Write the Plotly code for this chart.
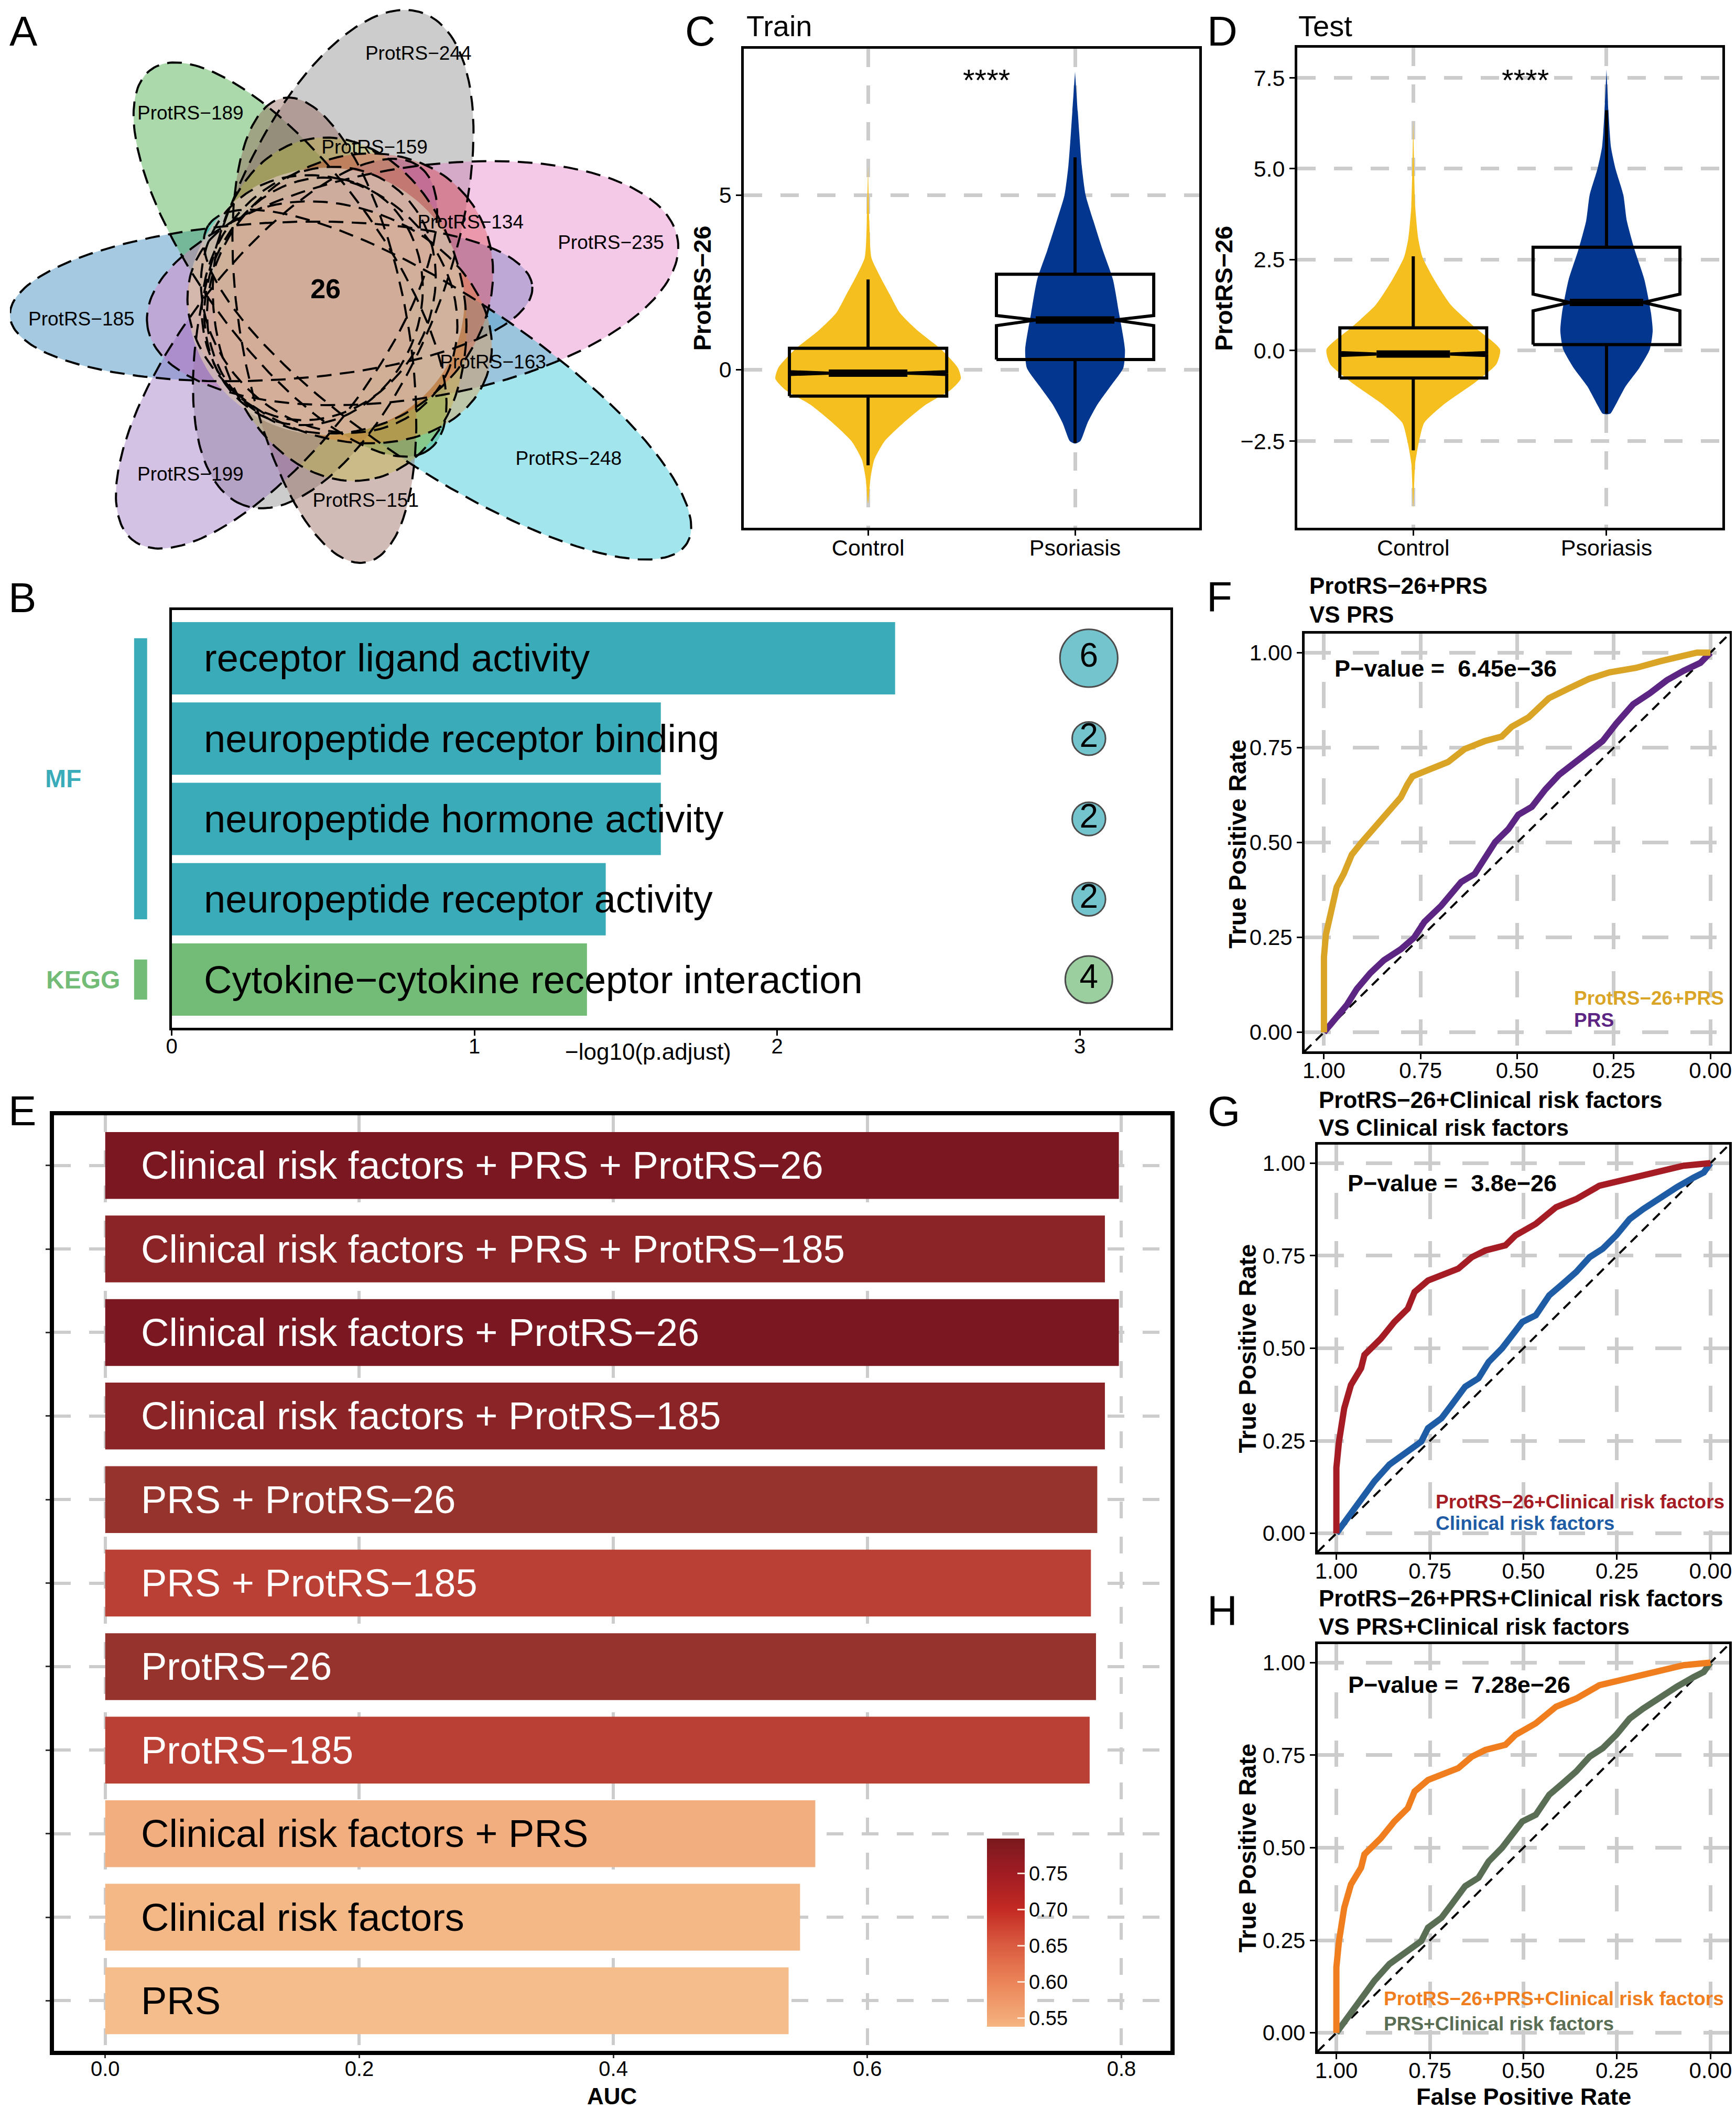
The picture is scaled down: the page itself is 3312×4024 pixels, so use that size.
import numpy as np
import plotly.graph_objects as go

W, H = 3312, 4024
OFF = 8  # page body margin compensation
FONT = "Liberation Sans, Arial, Helvetica, sans-serif"
MINUS = "\u2212"

# ---------------- data ----------------
# Panel A (Venn)
venn_petal_names = ["ProtRS" + MINUS + "185", "ProtRS" + MINUS + "189", "ProtRS" + MINUS + "244",
                    "ProtRS" + MINUS + "235", "ProtRS" + MINUS + "248", "ProtRS" + MINUS + "151",
                    "ProtRS" + MINUS + "199"]
venn_inner_names = ["ProtRS" + MINUS + "159", "ProtRS" + MINUS + "134", "ProtRS" + MINUS + "163"]
venn_core_count = 26

# Panel C (train) violin profiles: value level, half width (category units)
c_ctrl_levels = [-3.84, -3.1, -2.58, -2.05, -1.53, -1.0, -0.58, -0.26, 0.05, 0.58, 1.11, 1.63, 2.16, 2.69, 3.21, 4.26, 5.85]
c_ctrl_width = [0.0, 0.012, 0.03, 0.08, 0.17, 0.28, 0.40, 0.448, 0.434, 0.353, 0.241, 0.153, 0.104, 0.056, 0.016, 0.006, 0.0]
c_pso_levels = [-2.12, -2.05, -1.53, -1.0, -0.47, 0.05, 0.58, 1.63, 2.58, 3.42, 4.27, 5.0, 5.85, 7.4, 8.53]
c_pso_width = [0.0, 0.025, 0.06, 0.108, 0.172, 0.233, 0.241, 0.212, 0.183, 0.134, 0.088, 0.051, 0.032, 0.013, 0.0]
# box stats: q1, median, q3, lower whisker, upper whisker, notch low, notch high
c_ctrl_box = [-0.76, -0.10, 0.61, -2.74, 2.58, -0.14, -0.06]
c_pso_box = [0.29, 1.42, 2.73, -2.10, 6.08, 1.26, 1.55]

# Panel D (test)
d_ctrl_levels = [-4.32, -3.11, -2.5, -1.99, -1.49, -0.88, -0.38, 0.03, 0.64, 1.25, 1.95, 2.56, 3.07, 3.98, 6.36]
d_ctrl_width = [0.0, 0.01, 0.03, 0.057, 0.157, 0.32, 0.43, 0.449, 0.318, 0.195, 0.108, 0.048, 0.026, 0.01, 0.0]
d_pso_levels = [-1.76, -1.74, -1.49, -0.98, -0.48, 0.03, 0.54, 1.04, 1.95, 2.76, 3.57, 4.28, 4.99, 5.6, 6.61, 7.73]
d_pso_width = [0.0, 0.02, 0.048, 0.1, 0.17, 0.224, 0.239, 0.23, 0.196, 0.146, 0.105, 0.087, 0.047, 0.023, 0.01, 0.0]
d_ctrl_box = [-0.76, -0.10, 0.62, -2.75, 2.59, -0.14, -0.06]
d_pso_box = [0.16, 1.32, 2.84, -1.74, 6.61, 1.09, 1.55]

groups = ["Control", "Psoriasis"]

# Panel B (enrichment)
b_terms = ["receptor ligand activity", "neuropeptide receptor binding", "neuropeptide hormone activity",
           "neuropeptide receptor activity", "Cytokine" + MINUS + "cytokine receptor interaction"]
b_logp = [2.39, 1.616, 1.616, 1.434, 1.372]
b_counts = [6, 2, 2, 2, 4]
b_category = ["MF", "MF", "MF", "MF", "KEGG"]

# Panel E (AUC)
e_models = ["Clinical risk factors + PRS + ProtRS" + MINUS + "26",
            "Clinical risk factors + PRS + ProtRS" + MINUS + "185",
            "Clinical risk factors + ProtRS" + MINUS + "26",
            "Clinical risk factors + ProtRS" + MINUS + "185",
            "PRS + ProtRS" + MINUS + "26",
            "PRS + ProtRS" + MINUS + "185",
            "ProtRS" + MINUS + "26",
            "ProtRS" + MINUS + "185",
            "Clinical risk factors + PRS",
            "Clinical risk factors",
            "PRS"]
e_auc = [0.798, 0.787, 0.798, 0.787, 0.781, 0.776, 0.780, 0.775, 0.559, 0.547, 0.538]

# Panels F, G, H: ROC curves (specificity, sensitivity)
f_model_spec = [1.0, 1.0, 0.995, 0.983, 0.967, 0.949, 0.928, 0.902, 0.867, 0.836, 0.801, 0.784, 0.771, 0.740, 0.679, 0.636, 0.584, 0.540, 0.514, 0.470, 0.418, 0.366, 0.314, 0.261, 0.192, 0.131, 0.070, 0.035, 0.0]
f_model_sens = [0.0, 0.198, 0.257, 0.316, 0.383, 0.417, 0.468, 0.501, 0.543, 0.577, 0.619, 0.653, 0.674, 0.687, 0.712, 0.746, 0.767, 0.779, 0.805, 0.830, 0.880, 0.906, 0.931, 0.948, 0.960, 0.977, 0.994, 1.0, 1.0]
f_base_spec = [1.0, 0.976, 0.941, 0.915, 0.880, 0.845, 0.801, 0.767, 0.740, 0.697, 0.645, 0.610, 0.557, 0.523, 0.497, 0.462, 0.427, 0.392, 0.348, 0.314, 0.279, 0.244, 0.200, 0.157, 0.113, 0.070, 0.026, 0.0]
f_base_sens = [0.0, 0.029, 0.072, 0.114, 0.156, 0.190, 0.219, 0.249, 0.291, 0.333, 0.396, 0.417, 0.501, 0.535, 0.573, 0.594, 0.640, 0.678, 0.712, 0.741, 0.767, 0.813, 0.864, 0.893, 0.927, 0.952, 0.973, 1.0]

g_model_spec = [1.0, 1.0, 0.993, 0.979, 0.961, 0.934, 0.925, 0.881, 0.845, 0.809, 0.791, 0.755, 0.674, 0.638, 0.602, 0.548, 0.521, 0.467, 0.413, 0.359, 0.297, 0.225, 0.153, 0.072, 0.0]
g_model_sens = [0.0, 0.177, 0.248, 0.338, 0.401, 0.446, 0.482, 0.526, 0.571, 0.607, 0.652, 0.683, 0.715, 0.746, 0.764, 0.778, 0.805, 0.836, 0.881, 0.903, 0.939, 0.957, 0.975, 0.993, 1.0]
g_base_spec = [1.0, 0.97, 0.934, 0.898, 0.858, 0.809, 0.773, 0.755, 0.719, 0.692, 0.656, 0.62, 0.593, 0.557, 0.539, 0.503, 0.467, 0.431, 0.395, 0.359, 0.323, 0.288, 0.252, 0.216, 0.18, 0.135, 0.09, 0.045, 0.018, 0.0]
g_base_sens = [0.0, 0.042, 0.087, 0.141, 0.186, 0.222, 0.248, 0.284, 0.311, 0.347, 0.396, 0.419, 0.463, 0.5, 0.526, 0.571, 0.589, 0.643, 0.674, 0.706, 0.746, 0.769, 0.805, 0.849, 0.876, 0.908, 0.935, 0.961, 0.975, 1.0]

h_model_spec = [1.0, 1.0, 0.993, 0.979, 0.961, 0.934, 0.925, 0.881, 0.845, 0.809, 0.791, 0.755, 0.674, 0.638, 0.602, 0.548, 0.521, 0.467, 0.413, 0.359, 0.297, 0.225, 0.153, 0.072, 0.0]
h_model_sens = [0.0, 0.177, 0.248, 0.338, 0.401, 0.446, 0.482, 0.526, 0.571, 0.607, 0.652, 0.683, 0.715, 0.746, 0.764, 0.778, 0.805, 0.836, 0.881, 0.903, 0.939, 0.957, 0.975, 0.993, 1.0]
h_base_spec = [1.0, 0.97, 0.934, 0.898, 0.858, 0.809, 0.773, 0.755, 0.719, 0.692, 0.656, 0.62, 0.593, 0.557, 0.539, 0.503, 0.467, 0.431, 0.395, 0.359, 0.323, 0.288, 0.252, 0.216, 0.18, 0.135, 0.09, 0.045, 0.018, 0.0]
h_base_sens = [0.0, 0.042, 0.087, 0.141, 0.186, 0.222, 0.248, 0.284, 0.311, 0.347, 0.396, 0.419, 0.463, 0.5, 0.526, 0.571, 0.589, 0.643, 0.674, 0.706, 0.746, 0.769, 0.805, 0.849, 0.876, 0.908, 0.935, 0.961, 0.975, 1.0]

roc_titles = [("ProtRS" + MINUS + "26+PRS", "VS PRS"),
              ("ProtRS" + MINUS + "26+Clinical risk factors", "VS Clinical risk factors"),
              ("ProtRS" + MINUS + "26+PRS+Clinical risk factors", "VS PRS+Clinical risk factors")]
roc_pvalues = ["6.45e" + MINUS + "36", "3.8e" + MINUS + "26", "7.28e" + MINUS + "26"]
roc_legends = [("ProtRS" + MINUS + "26+PRS", "PRS"),
               ("ProtRS" + MINUS + "26+Clinical risk factors", "Clinical risk factors"),
               ("ProtRS" + MINUS + "26+PRS+Clinical risk factors", "PRS+Clinical risk factors")]

# ---------------- styles ----------------
venn_petal_colors = ["#1F77B4", "#2CA02C", "#7F7F7F", "#E377C2", "#17BECF", "#8C564B", "#9467BD"]
venn_inner_colors = ["#BCBD22", "#D62728", "#FF7F0E"]
ctrl_col = "#F5BF20"
pso_col = "#03368F"
b_cat_colors = {"MF": "#3AACB9", "KEGG": "#72BC77"}
e_bar_colors = ["#7B1720", "#8A2427", "#7B1720", "#8A2427", "#97332D", "#BA3F35",
                "#97332D", "#BA3F35", "#F2AE7E", "#F4B887", "#F5BD8C"]
e_colorscale = [[0.0, "rgb(245,182,130)"], [0.046, "rgb(243,170,120)"], [0.238, "rgb(235,132,88)"],
                [0.431, "rgb(218,92,65)"], [0.623, "rgb(195,42,35)"], [0.815, "rgb(160,28,35)"],
                [1.0, "rgb(122,26,30)"]]
roc_colors = [("#DAA526", "#5C2483"), ("#A51C24", "#1F5CA6"), ("#F07E1E", "#5A6E55")]
GRID = "#CCCCCC"


def dom_x(l, r):
    return [max(0.0, (l - OFF) / W), min(1.0, (r - OFF) / W)]


def dom_y(t, b):
    return [max(0.0, 1 - (b - OFF) / H), min(1.0, 1 - (t - OFF) / H)]


def px(x):
    return (x - OFF) / W


def py(y):
    return 1 - (y - OFF) / H


fig = go.Figure()
ann = []


def add_text(x, y, text, size, color="black", bold=False, xanchor="center", yanchor="middle",
             textangle=0):
    if bold:
        text = "<b>" + text + "</b>"
    ann.append(dict(x=px(x), y=py(y), xref="paper", yref="paper", text=text, showarrow=False,
                    xanchor=xanchor, yanchor=yanchor, textangle=textangle,
                    font=dict(family=FONT, size=size, color=color)))


def hex_rgba(h, a):
    h = h.lstrip("#")
    return "rgba(%d,%d,%d,%.3f)" % (int(h[0:2], 16), int(h[2:4], 16), int(h[4:6], 16), a)


# ---------------- Panel A: Venn ----------------
flower_center = np.array([600.0, 570.0])
petal_tips = [(8, 603), (278, 133), (800, 25), (1288, 456), (1305, 1038), (690, 1073), (244, 1031)]
petal_len = [1003, 900, 1000, 1030, 1100, 900, 900]
petal_minor = [150, 170, 220, 220, 165, 160, 175]
ellipses = []
for tip, L, b in zip(petal_tips, petal_len, petal_minor):
    tip = np.array(tip, float)
    u = flower_center - tip
    u /= np.linalg.norm(u)
    c = tip + u * L / 2
    ang = np.degrees(np.arctan2(u[1], u[0]))
    ellipses.append((c[0], c[1], L / 2, b, ang))
ellipses_inner = [(640, 590, 330, 240, 80), (660, 560, 290, 250, -40), (640, 615, 300, 220, 20)]


def ellipse_pts(cx, cy, a, b, ang, n=160):
    t = np.linspace(0, 2 * np.pi, n)
    th = np.radians(ang)
    x = cx + a * np.cos(t) * np.cos(th) - b * np.sin(t) * np.sin(th)
    y = cy + a * np.cos(t) * np.sin(th) + b * np.sin(t) * np.cos(th)
    return x, y


for (cx, cy, a, b, ang), col in zip(ellipses, venn_petal_colors):
    x, y = ellipse_pts(cx, cy, a, b, ang)
    fig.add_trace(go.Scatter(x=x, y=y, fill="toself", fillcolor=hex_rgba(col, 0.4),
                             line=dict(width=0), mode="lines", hoverinfo="skip", xaxis="x", yaxis="y"))
for (cx, cy, a, b, ang), col in zip(ellipses_inner, venn_inner_colors):
    x, y = ellipse_pts(cx, cy, a, b, ang)
    fig.add_trace(go.Scatter(x=x, y=y, fill="toself", fillcolor=hex_rgba(col, 0.3),
                             line=dict(width=0), mode="lines", hoverinfo="skip", xaxis="x", yaxis="y"))
# softened core where all sets overlap
x, y = ellipse_pts(614, 575, 265, 255, 0)
fig.add_trace(go.Scatter(x=x, y=y, fill="toself", fillcolor="rgba(214,193,180,0.75)",
                         line=dict(width=0), mode="lines", hoverinfo="skip", xaxis="x", yaxis="y"))
extra_inner = [(600, 560, 250, 215, 120), (620, 580, 265, 225, 45), (590, 575, 240, 205, -70)]
for (cx, cy, a, b, ang) in ellipses + ellipses_inner + extra_inner:
    x, y = ellipse_pts(cx, cy, a, b, ang, 220)
    fig.add_trace(go.Scatter(x=x, y=y, mode="lines",
                             line=dict(color="black", width=4, dash="28px,16px"),
                             hoverinfo="skip", xaxis="x", yaxis="y"))
venn_label_pos = [(145, 612), (354, 219), (791, 105), (1160, 466), (1079, 878), (690, 958), (354, 908)]
inner_label_pos = [(707, 284), (891, 427), (934, 694)]
for (lx, ly), name in zip(venn_label_pos + inner_label_pos, venn_petal_names + venn_inner_names):
    fig.add_trace(go.Scatter(x=[lx], y=[ly], mode="text", text=[name],
                             textfont=dict(family=FONT, size=37, color="black"),
                             hoverinfo="skip", xaxis="x", yaxis="y"))
fig.add_trace(go.Scatter(x=[613], y=[556], mode="text", text=["<b>%d</b>" % venn_core_count],
                         textfont=dict(family=FONT, size=52, color="black"), hoverinfo="skip",
                         xaxis="x", yaxis="y"))


# ---------------- Panels C & D ----------------
def violin_xy(pos, ys, ws):
    ys = np.asarray(ys, float)
    ws = np.asarray(ws, float)
    return np.concatenate([pos - ws, (pos + ws)[::-1]]), np.concatenate([ys, ys[::-1]])


def add_violin_box(pos, levels, widths, box, color, xa, ya):
    vx, vy = violin_xy(pos, levels, widths)
    fig.add_trace(go.Scatter(x=vx, y=vy, fill="toself", fillcolor=color, mode="lines",
                             line=dict(width=0, shape="spline", smoothing=0.6),
                             hoverinfo="skip", xaxis=xa, yaxis=ya))
    q1, med, q3, wlo, whi, nlo, nhi = box
    hw, nw = 0.38, 0.19
    bx = [pos - hw, pos - hw, pos - nw, pos - hw, pos - hw, pos + hw, pos + hw, pos + nw, pos + hw, pos + hw, pos - hw]
    by = [q1, nlo, med, nhi, q3, q3, nhi, med, nlo, q1, q1]
    for y0, y1 in ((q3, whi), (q1, wlo)):
        fig.add_trace(go.Scatter(x=[pos, pos], y=[y0, y1], mode="lines", line=dict(color="black", width=6),
                                 hoverinfo="skip", xaxis=xa, yaxis=ya))
    fig.add_trace(go.Scatter(x=bx, y=by, mode="lines", line=dict(color="black", width=6),
                             hoverinfo="skip", xaxis=xa, yaxis=ya))
    fig.add_trace(go.Scatter(x=[pos - nw, pos + nw], y=[med, med], mode="lines",
                             line=dict(color="black", width=14), hoverinfo="skip", xaxis=xa, yaxis=ya))


add_violin_box(1, c_ctrl_levels, c_ctrl_width, c_ctrl_box, ctrl_col, "x2", "y2")
add_violin_box(2, c_pso_levels, c_pso_width, c_pso_box, pso_col, "x2", "y2")
add_violin_box(1, d_ctrl_levels, d_ctrl_width, d_ctrl_box, ctrl_col, "x3", "y3")
add_violin_box(2, d_pso_levels, d_pso_width, d_pso_box, pso_col, "x3", "y3")

# ---------------- Panel B ----------------
b_pos = list(range(1, len(b_terms) + 1))
b_cols = [b_cat_colors[c] for c in b_category]
fig.add_trace(go.Bar(x=b_logp, y=b_pos, orientation="h", width=0.9, marker=dict(color=b_cols, line=dict(width=0)),
                     hoverinfo="skip", xaxis="x4", yaxis="y4"))
fig.add_trace(go.Scatter(x=[3.03] * len(b_pos), y=b_pos, mode="markers+text",
                         marker=dict(size=[45 * np.sqrt(c) for c in b_counts], color=b_cols,
                                     line=dict(color="black", width=3)),
                         text=[str(c) for c in b_counts], textposition="middle center",
                         textfont=dict(family=FONT, size=64, color="black"),
                         hoverinfo="skip", xaxis="x4", yaxis="y4", cliponaxis=False))
for i, term in enumerate(b_terms):
    ann.append(dict(x=0.103, y=b_pos[i], xref="x4", yref="y4", text=term, showarrow=False,
                    xanchor="left", yanchor="middle", font=dict(family=FONT, size=74, color="black")))

# ---------------- Panel E ----------------
e_pos = list(range(1, len(e_models) + 1))
fig.add_trace(go.Bar(x=e_auc, y=e_pos, orientation="h", width=0.8,
                     marker=dict(color=e_bar_colors, line=dict(width=0)),
                     hoverinfo="skip", xaxis="x6", yaxis="y6"))
fig.add_trace(go.Scatter(x=e_auc, y=e_pos, mode="markers",
                         marker=dict(size=0.1, color=e_auc, colorscale=e_colorscale, cmin=min(e_auc),
                                     cmax=max(e_auc), opacity=0,
                                     colorbar=dict(x=px(1881), xanchor="left", y=py(3508), yanchor="top",
                                                   len=359, lenmode="pixels", thickness=72,
                                                   thicknessmode="pixels", outlinewidth=0,
                                                   tickvals=[0.55, 0.60, 0.65, 0.70, 0.75],
                                                   ticktext=["0.55", "0.60", "0.65", "0.70", "0.75"],
                                                   ticks="inside", ticklen=14, tickwidth=3,
                                                   tickcolor="rgba(255,235,220,0.95)",
                                                   tickfont=dict(family=FONT, size=38, color="black"),
                                                   xpad=0, ypad=0)),
                         hoverinfo="skip", xaxis="x6", yaxis="y6"))
for i, m in enumerate(e_models):
    col = "white" if e_auc[i] > 0.7 else "black"
    ann.append(dict(x=0.0272, y=e_pos[i], xref="x6", yref="y6", text=m, showarrow=False,
                    xanchor="left", yanchor="middle", font=dict(family=FONT, size=74, color=col)))

# ---------------- Panels F, G, H ----------------
roc_sets = [(f_model_spec, f_model_sens, f_base_spec, f_base_sens),
            (g_model_spec, g_model_sens, g_base_spec, g_base_sens),
            (h_model_spec, h_model_sens, h_base_spec, h_base_sens)]
roc_axes = [("x5", "y5"), ("x7", "y7"), ("x8", "y8")]
for (ms, mse, bs, bse), (xa, ya), (cm, cb) in zip(roc_sets, roc_axes, roc_colors):
    fig.add_trace(go.Scatter(x=[1.05, -0.05], y=[-0.05, 1.05], mode="lines",
                             line=dict(color="black", width=4, dash="18px,12px"),
                             hoverinfo="skip", xaxis=xa, yaxis=ya))
    fig.add_trace(go.Scatter(x=bs, y=bse, mode="lines", line=dict(color=cb, width=12),
                             hoverinfo="skip", xaxis=xa, yaxis=ya))
    fig.add_trace(go.Scatter(x=ms, y=mse, mode="lines", line=dict(color=cm, width=12),
                             hoverinfo="skip", xaxis=xa, yaxis=ya))

# ---------------- axes ----------------
lay = dict(width=W, height=H, margin=dict(l=0, r=0, t=0, b=0), paper_bgcolor="white",
           plot_bgcolor="white", showlegend=False, font=dict(family=FONT, color="black"))

lay["xaxis"] = dict(domain=dom_x(OFF, 1320), range=[OFF, 1320], visible=False)
lay["yaxis"] = dict(domain=dom_y(OFF, 1080), range=[1080, OFF], visible=False)

# pull x tick labels a little closer to the axis when supported
try:
    go.layout.XAxis(ticklabelstandoff=-14)
    XSTAND = dict(ticklabelstandoff=-14)
except Exception:
    XSTAND = {}


def frame_axis(**kw):
    d = dict(showline=True, mirror=True, linecolor="black", linewidth=5, zeroline=False,
             ticks="outside", ticklen=10, tickwidth=3, tickcolor="black",
             tickfont=dict(family=FONT, size=42, color="black"), fixedrange=True)
    d.update(kw)
    return d


GRID_CD = dict(showgrid=True, gridcolor=GRID, gridwidth=7, griddash="35px,35px")
# C
lay["xaxis2"] = frame_axis(domain=dom_x(1415, 2288), range=[0.4, 2.6], tickvals=[1, 2], ticktext=groups,
                           anchor="y2", tickfont=dict(family=FONT, size=43, color="black"), **GRID_CD, **XSTAND)
lay["yaxis2"] = frame_axis(domain=dom_y(93, 1007), range=[-4.53, 9.19], tickvals=[0, 5], ticktext=["0", "5"],
                           anchor="x2", tickfont=dict(family=FONT, size=43, color="black"), **GRID_CD)
# D
lay["xaxis3"] = frame_axis(domain=dom_x(2476, 3291), range=[0.4, 2.6], tickvals=[1, 2], ticktext=groups,
                           anchor="y3", tickfont=dict(family=FONT, size=43, color="black"), **GRID_CD, **XSTAND)
lay["yaxis3"] = frame_axis(domain=dom_y(91, 1007), range=[-4.88, 8.33], tickvals=[-2.5, 0, 2.5, 5, 7.5],
                           ticktext=[MINUS + "2.5", "0.0", "2.5", "5.0", "7.5"],
                           anchor="x3", tickfont=dict(family=FONT, size=43, color="black"), **GRID_CD)
# B
lay["xaxis4"] = frame_axis(domain=dom_x(318, 2233), range=[0, 3.3], tickvals=[0, 1, 2, 3],
                           showgrid=False, anchor="y4", tickfont=dict(family=FONT, size=40, color="black"),
                           **XSTAND)
lay["yaxis4"] = frame_axis(domain=dom_y(1164, 1961), range=[5.6, 0.4], showticklabels=False, ticks="",
                           showgrid=False, anchor="x4")
# F, G, H
roc_tick = dict(tickvals=[0, 0.25, 0.5, 0.75, 1.0], ticktext=["0.00", "0.25", "0.50", "0.75", "1.00"],
                showgrid=True, gridcolor=GRID, gridwidth=7, griddash="50px,42px")
lay["xaxis5"] = frame_axis(domain=dom_x(2490, 3305), range=[1.05, -0.05], anchor="y5", **roc_tick, **XSTAND)
lay["yaxis5"] = frame_axis(domain=dom_y(1209, 2006), range=[-0.05, 1.05], anchor="x5", **roc_tick)
lay["xaxis7"] = frame_axis(domain=dom_x(2515, 3304), range=[1.05, -0.05], anchor="y7", **roc_tick, **XSTAND)
lay["yaxis7"] = frame_axis(domain=dom_y(2184, 2961), range=[-0.05, 1.05], anchor="x7", **roc_tick)
lay["xaxis8"] = frame_axis(domain=dom_x(2515, 3304), range=[1.05, -0.05], anchor="y8", **roc_tick, **XSTAND)
lay["yaxis8"] = frame_axis(domain=dom_y(3137, 3914), range=[-0.05, 1.05], anchor="x8", **roc_tick)
# E
lay["xaxis6"] = frame_axis(domain=dom_x(92, 2233), range=[-0.0405, 0.8387], tickvals=[0, 0.2, 0.4, 0.6, 0.8],
                           ticktext=["0.0", "0.2", "0.4", "0.6", "0.8"], showgrid=True, gridcolor=GRID,
                           gridwidth=6, griddash="32px,35px", anchor="y6", linewidth=8, ticklen=6,
                           tickcolor="#333333", tickfont=dict(family=FONT, size=40, color="black"), **XSTAND)
lay["yaxis6"] = frame_axis(domain=dom_y(2128, 3913), range=[11.6, 0.4], tickvals=e_pos,
                           showticklabels=False, showgrid=True, gridcolor=GRID, gridwidth=6,
                           griddash="32px,35px", anchor="x6", linewidth=8, ticklen=8, tickcolor="#333333")

# ---------------- annotations / shapes ----------------
shapes = []
shapes.append(dict(type="rect", xref="paper", yref="y4", x0=px(246), x1=px(271), y0=0.75, y1=4.25,
                   fillcolor=b_cat_colors["MF"], line=dict(width=0)))
shapes.append(dict(type="rect", xref="paper", yref="y4", x0=px(246), x1=px(271), y0=4.75, y1=5.25,
                   fillcolor=b_cat_colors["KEGG"], line=dict(width=0)))
ann.append(dict(x=px(110), y=2.5, xref="paper", yref="y4", text="<b>MF</b>", showarrow=False,
                xanchor="center", yanchor="middle",
                font=dict(family=FONT, size=48, color=b_cat_colors["MF"])))
ann.append(dict(x=px(148), y=5, xref="paper", yref="y4", text="<b>KEGG</b>", showarrow=False,
                xanchor="center", yanchor="middle",
                font=dict(family=FONT, size=48, color=b_cat_colors["KEGG"])))
add_text(1231, 2006, MINUS + "log10(p.adjust)", 44)

# panel letters
for L, (lx, ly) in zip("ACDBFEGH", [(34, 60), (1331, 60), (2332, 60), (32, 1140), (2327, 1138),
                                    (32, 2119), (2335, 2120), (2332, 3072)]):
    add_text(lx, ly, L, 80)

# C / D titles and axis titles
add_text(1418, 50, "Train", 56, xanchor="left")
add_text(2476, 50, "Test", 56, xanchor="left")
add_text(1335, 550, "ProtRS" + MINUS + "26", 47, bold=True, textangle=-90)
add_text(2335, 550, "ProtRS" + MINUS + "26", 47, bold=True, textangle=-90)
add_text(1880, 152, "****", 58)
add_text(2913, 152, "****", 58)

# ROC titles etc.
roc_title_pos = [(2497, 1117, 1172), (2515, 2098, 2151), (2515, 3049, 3103)]
roc_p_pos = [(2545, 1276), (2570, 2257), (2571, 3214)]
roc_leg_pos = [(3004, 1904, 1946), (2739, 2865, 2906), (2640, 3813, 3861)]
roc_ylab = [(2361, 1610), (2380, 2573), (2380, 3526)]
for i in range(3):
    tx, ty1, ty2 = roc_title_pos[i]
    add_text(tx, ty1, roc_titles[i][0], 44, bold=True, xanchor="left")
    add_text(tx, ty2, roc_titles[i][1], 44, bold=True, xanchor="left")
    ppx, ppy = roc_p_pos[i]
    add_text(ppx, ppy, "P" + MINUS + "value =\u00a0 " + roc_pvalues[i], 45, bold=True, xanchor="left")
    lx, l1, l2 = roc_leg_pos[i]
    add_text(lx, l1, roc_legends[i][0], 37, color=roc_colors[i][0], bold=True, xanchor="left")
    add_text(lx, l2, roc_legends[i][1], 37, color=roc_colors[i][1], bold=True, xanchor="left")
    yx, yy = roc_ylab[i]
    add_text(yx, yy, "True Positive Rate", 46, bold=True, textangle=-90)
add_text(2910, 4000, "False Positive Rate", 45, bold=True)
add_text(1162, 3999, "AUC", 44, bold=True)

lay["annotations"] = ann
lay["shapes"] = shapes
fig.update_layout(**lay)
fig.write_html("out.html")
